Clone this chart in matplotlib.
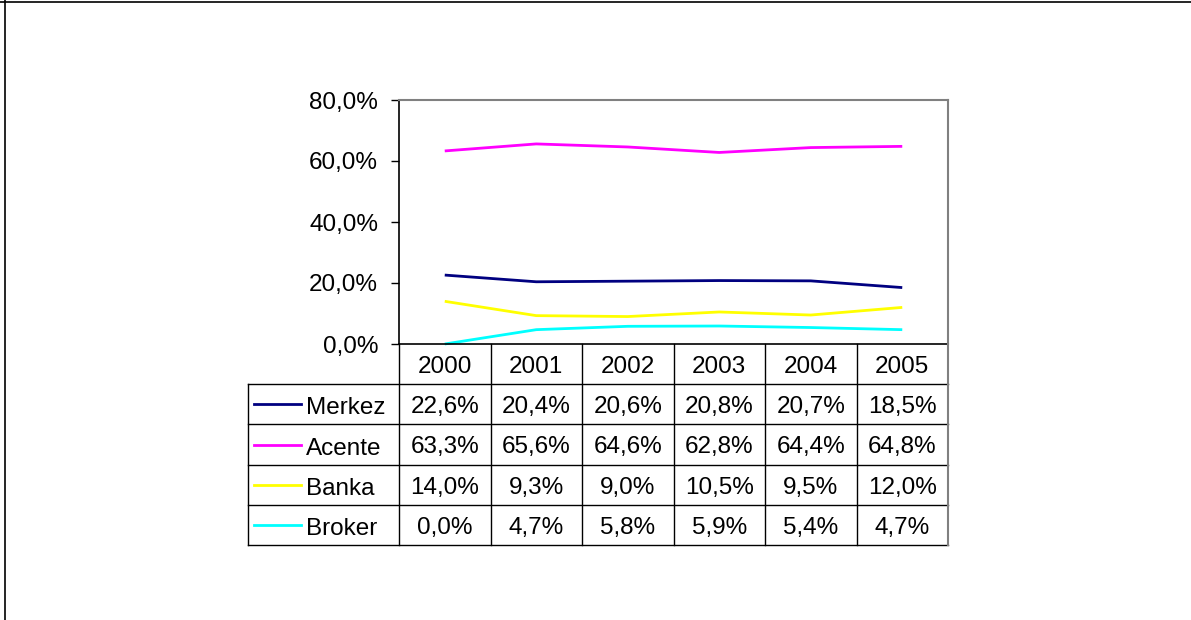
import numpy as np
import matplotlib
matplotlib.use('Agg')
import matplotlib.pyplot as plt
from matplotlib.lines import Line2D

plt.rcParams['font.family'] = ['Liberation Sans', 'DejaVu Sans']

years = ['2000', '2001', '2002', '2003', '2004', '2005']
series_names = ['Merkez', 'Acente', 'Banka', 'Broker']
merkez = [22.6, 20.4, 20.6, 20.8, 20.7, 18.5]
acente = [63.3, 65.6, 64.6, 62.8, 64.4, 64.8]
banka = [14.0, 9.3, 9.0, 10.5, 9.5, 12.0]
broker = [0.0, 4.7, 5.8, 5.9, 5.4, 4.7]
y_ticks = [0, 20, 40, 60, 80]

colors = ['#000080', '#FF00FF', '#FFFF00', '#00FFFF']
values = [merkez, acente, banka, broker]
fs = 17.5

W, H = 1191, 620
fig = plt.figure(figsize=(W / 100, H / 100), dpi=100)

def fig_box(x0, y0, x1, y1):
    # pixel box -> figure fraction [left, bottom, width, height]
    return [x0 / W, 1 - y1 / H, (x1 - x0) / W, (y1 - y0) / H]

#figure frame: only top and left edges are visible
fig.add_artist(Line2D([0, 1], [1 - 2.3 / H, 1 - 2.3 / H], color='black', lw=1.2, transform=fig.transFigure))
fig.add_artist(Line2D([5.3 / W, 5.3 / W], [0, 1], color='black', lw=1.2, transform=fig.transFigure))

#line chart
ax = fig.add_axes(fig_box(399, 100, 948, 344))
x = np.arange(len(years))
for vals, col in zip(values, colors):
    ax.plot(x, vals, color=col, lw=2.0, solid_capstyle='butt', clip_on=False)
ax.set_xlim(-0.5, len(years) - 0.5)
ax.set_ylim(0, 80)
ax.set_yticks(y_ticks)
ax.set_yticklabels([('%.1f%%' % t).replace('.', ',') for t in y_ticks], fontsize=fs)
ax.set_xticks([])
ax.tick_params(axis='y', direction='out', length=6, width=1.0, pad=9, color='black')
for side in ['top', 'right']:
    ax.spines[side].set_color('#808080')
    ax.spines[side].set_linewidth(1.5)
for side in ['left', 'bottom']:
    ax.spines[side].set_color('black')
    ax.spines[side].set_linewidth(1.2)

#data table under the chart
tb = fig.add_axes(fig_box(248.3, 344, 948, 545))
x_left = -0.5 - 150.7 / 91.5
tb.set_xlim(x_left, len(years) - 0.5)
tb.set_ylim(len(series_names) + 1, 0)
tb.axis('off')

lk = dict(color='black', lw=1.0, clip_on=False)
for r in range(1, len(series_names) + 2):
    tb.plot([x_left, len(years) - 0.5], [r, r], **lk)
tb.plot([x_left, x_left], [1, len(series_names) + 1], **lk)
for c in range(len(years)):
    tb.plot([c - 0.5, c - 0.5], [0, len(series_names) + 1], **lk)
tb.plot([len(years) - 0.5] * 2, [0, len(series_names) + 1], color='#808080', lw=1.5, clip_on=False)

for c, yr in enumerate(years):
    tb.text(c, 0.57, yr, ha='center', va='center', fontsize=fs)

for r, (name, vals, col) in enumerate(zip(series_names, values, colors)):
    yy = r + 1.5
    tb.plot([x_left + 5.7 / 91.5, x_left + 52.7 / 91.5], [yy, yy], color=col, lw=2.0)
    tb.text(x_left + 57.7 / 91.5, yy + 0.1, name, ha='left', va='center', fontsize=fs)
    for c, v in enumerate(vals):
        tb.text(c, yy + 0.07, ('%.1f%%' % v).replace('.', ','), ha='center', va='center', fontsize=fs)

fig.savefig('out.png', dpi=100)
